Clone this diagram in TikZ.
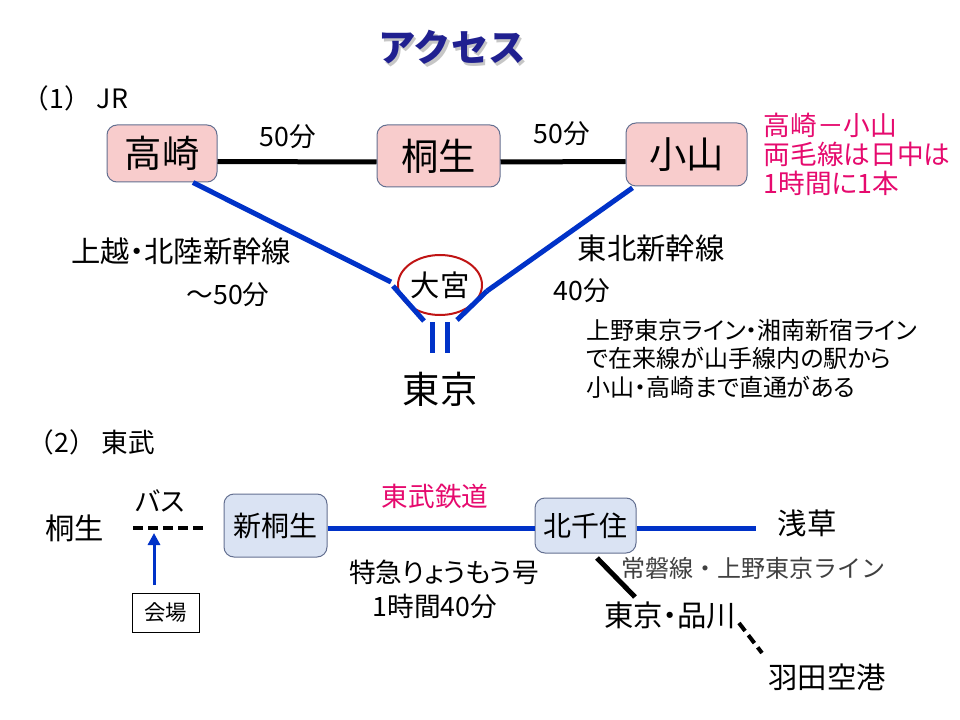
\documentclass[tikz,border=0pt]{standalone}
\usepackage{fontspec}
\setmainfont{Noto Sans CJK JP}[RawFeature=+palt]
\newfontfamily\jpmono{Noto Sans CJK JP}
\usetikzlibrary{arrows.meta,shapes.geometric}
\definecolor{navy}{RGB}{32,32,144}
\definecolor{railblue}{RGB}{0,50,200}
\definecolor{pinkfill}{RGB}{248,204,204}
\definecolor{bluefill}{RGB}{218,227,243}
\definecolor{boxedge}{RGB}{100,112,145}
\definecolor{magentatext}{RGB}{230,10,110}
\definecolor{ovalred}{RGB}{192,20,20}
\begin{document}
\begin{tikzpicture}[x=0.75pt,y=-0.75pt,
  stbox/.style={draw=boxedge,line width=0.75pt,rounded corners=7.5pt,fill=pinkfill,inner sep=0pt,font=\fontsize{28}{30}\selectfont},
  tbbox/.style={draw=boxedge,line width=0.75pt,rounded corners=7.5pt,fill=bluefill,inner sep=0pt,font=\fontsize{21}{24}\selectfont},
  jrline/.style={draw=railblue,line width=3.75pt},
  blkline/.style={draw=black,line width=3.75pt},
  txa/.style={font=\fontsize{20}{24}\selectfont},
  txb/.style={font=\fontsize{22}{26}\selectfont},
]
\useasboundingbox[fill=white] (0,0) rectangle (960,720);

% title (with drop shadow in the same node)
\node[text=navy,font=\fontsize{28}{32}\selectfont\bfseries\jpmono] (title) at (452,49)
  {\makebox[0pt][l]{\hspace{1.9pt}\raisebox{-1.9pt}{\textcolor{gray!45}{アクセス}}}アクセス};

% section 1
\node[font=\fontsize{20}{24}\selectfont\jpmono,anchor=west] (sec1) at (18,98) {（1） JR};

\node[stbox,minimum width=82.5pt,minimum height=42.75pt] (takasaki) at (162,153.5) {高崎};
\node[stbox,minimum width=92.25pt,minimum height=46.5pt] (kiryu) at (438.5,156) {桐生};
\node[stbox,minimum width=90.75pt,minimum height=47.25pt] (oyama) at (686.5,154.5) {小山};

\draw[blkline] ([yshift=-6pt]takasaki.east) -- ([yshift=-4.5pt]kiryu.east -| kiryu.west);
\draw[blkline] ([yshift=-4.5pt]kiryu.east) -- ([yshift=-5.25pt]oyama.west);

\node[txa] (t50a) at (288,137) {50分};
\node[txa] (t50b) at (562,134) {50分};

% Omiya
\node[draw=ovalred,line width=1.5pt,ellipse,minimum width=63pt,minimum height=45pt,inner sep=0pt,font=\fontsize{22}{24}\selectfont] (omiya) at (440,285) {大宮};

\coordinate (jl1) at (391,282);
\coordinate (jl2) at (393,286);
\coordinate (jl3) at (424,321);
\coordinate (jr1) at (457,320);
\coordinate (jr2) at (487,291);
\draw[jrline] ([xshift=23.25pt]takasaki.south) -- (jl1);
\draw[jrline] (jl2) -- (jl3);
\draw[jrline] (jr1) -- (jr2);
\draw[jrline] (jr2) -- ([xshift=-40.5pt,yshift=-1pt]oyama.south);

\node[font=\fontsize{28}{30}\selectfont] (tokyo) at (440,389) {東京};
\coordinate (eq1a) at (432,322);
\coordinate (eq1b) at (432,353);
\coordinate (eq2a) at (447,322);
\coordinate (eq2b) at (447,353);
\draw[jrline] (eq1a) -- (eq1b);
\draw[jrline] (eq2a) -- (eq2b);

\node[txb] (joetsu) at (181,251) {上越・北陸新幹線};
\node[txa] (t50c) at (228,295) {～50分};
\node[txb] (tohoku) at (651,248) {東北新幹線};
\node[txa] (t40) at (582,291) {40分};

\node[text=magentatext,anchor=west,align=left,font=\fontsize{20}{21.75}\selectfont] (note1) at (759,154) {高崎－小山\\両毛線は日中は\\1時間に1本};
\node[anchor=west,align=left,font=\fontsize{18}{21.4}\selectfont] (note2) at (582,358.5) {上野東京ライン・湘南新宿ライン\\で在来線が山手線内の駅から\\小山・高崎まで直通がある};

% section 2
\node[font=\fontsize{20}{24}\selectfont\jpmono,anchor=west] (sec2) at (23,442) {（2） 東武};

\node[txb] (kiryu2) at (75,528) {桐生};
\node[txa] (bus) at (160,501) {バス};
\coordinate (bus1) at (133,528);
\coordinate (bus2) at (207,528);
\draw[line width=2.6pt,dash pattern=on 7.5pt off 3.75pt] (bus1) -- (bus2);

\node[draw=black,line width=0.75pt,minimum width=50.25pt,minimum height=29.25pt,inner sep=0pt,font=\fontsize{16}{18}\selectfont] (kaijo) at (165.5,612.5) {会場};
\coordinate (arrS) at (154,585);
\coordinate (arrE) at (154,533);
\draw[draw=railblue,line width=2.25pt,-{Triangle[length=9pt,width=9pt]}] (arrS) -- (arrE);

\node[tbbox,minimum width=77.25pt,minimum height=47.25pt] (shinkiryu) at (275.5,525.5) {新桐生};
\node[tbbox,minimum width=75.75pt,minimum height=41.25pt] (kitasenju) at (585.5,525.5) {北千住};
\coordinate (asaE) at (756,528.5);
\draw[jrline] ([yshift=-2pt]shinkiryu.east) -- ([yshift=-2pt]kitasenju.west);
\draw[jrline] ([yshift=-2.25pt]kitasenju.east) -- (asaE);

\node[text=magentatext,font=\fontsize{20}{24}\selectfont] (tobu) at (435,496) {東武鉄道};
\node[txb] (asakusa) at (807,523) {浅草};
\node[txa] (ryomo) at (444,572) {特急りょうもう号};
\node[txa] (t140) at (435,606) {1時間40分};
\node[text=black!75,font=\fontsize{18}{20}\selectfont\jpmono] (joban) at (753,568) {常磐線・上野東京ライン};

\node[txb] (shinagawa) at (670,615) {東京・品川};
\node[txb] (haneda) at (827,677) {羽田空港};
\coordinate (jbS) at (597,558);
\coordinate (jbE) at (635,597);
\draw[blkline] (jbS) -- (jbE);
\coordinate (hnS) at (739,623);
\coordinate (hnE) at (762,653);
\draw[line width=3pt,dash pattern=on 7.5pt off 4pt] (hnS) -- (hnE);
\end{tikzpicture}
\end{document}
